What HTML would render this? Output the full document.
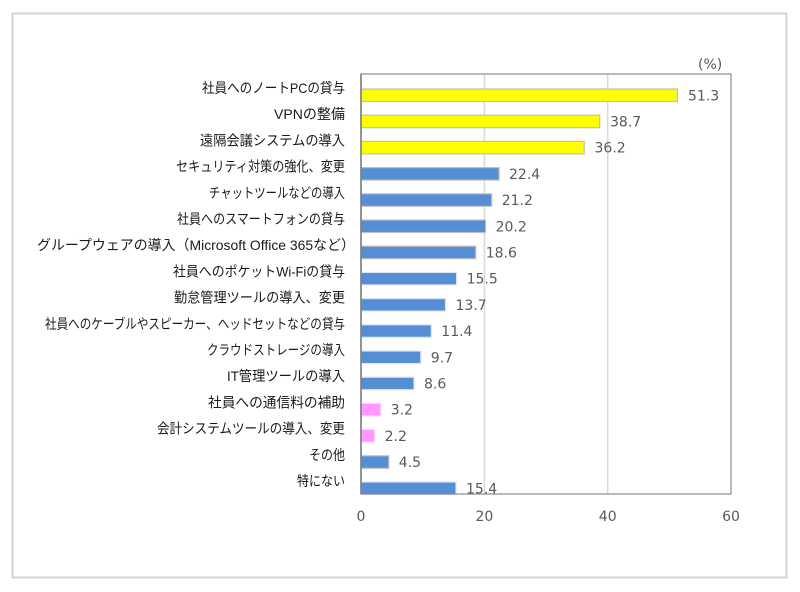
<!DOCTYPE html>
<html><head><meta charset="utf-8"><style>
html,body{margin:0;padding:0;background:#fff;}
svg{display:block;}
.cat{font-family:"Liberation Sans","Noto Sans CJK JP",sans-serif;font-size:14px;fill:#1a1a1a;}
.val{font-family:"DejaVu Sans","Liberation Sans",sans-serif;font-size:14px;fill:#595959;}
</style></head><body>
<svg width="800" height="592" viewBox="0 0 800 592" xmlns="http://www.w3.org/2000/svg">
<rect x="0" y="0" width="800" height="592" fill="#fff"/>
<rect x="12.5" y="13.5" width="774" height="564" fill="#fff" stroke="#d4d4d4" stroke-width="2"/>
<!-- gridlines -->
<line x1="484.4" y1="74" x2="484.4" y2="494" stroke="#d9d9d9" stroke-width="1.5"/>
<line x1="607.7" y1="74" x2="607.7" y2="494" stroke="#d9d9d9" stroke-width="1.5"/>
<!-- bars -->
<g stroke-width="1.2">
<rect x="361" y="89" width="316.4" height="12.5" fill="#FFFF00" stroke="#bfbfbf"/>
<rect x="361" y="115.2" width="238.7" height="12.5" fill="#FFFF00" stroke="#bfbfbf"/>
<rect x="361" y="141.4" width="223.2" height="12.5" fill="#FFFF00" stroke="#bfbfbf"/>
<rect x="361" y="167.6" width="138.1" height="12.5" fill="#558ED5" stroke="#bfbfbf"/>
<rect x="361" y="193.8" width="130.7" height="12.5" fill="#558ED5" stroke="#bfbfbf"/>
<rect x="361" y="220" width="124.6" height="12.5" fill="#558ED5" stroke="#bfbfbf"/>
<rect x="361" y="246.2" width="114.7" height="12.5" fill="#558ED5" stroke="#bfbfbf"/>
<rect x="361" y="272.4" width="95.6" height="12.5" fill="#558ED5" stroke="#dce6f4"/>
<rect x="361" y="298.6" width="84.5" height="12.5" fill="#558ED5" stroke="#dce6f4"/>
<rect x="361" y="324.8" width="70.3" height="12.5" fill="#558ED5" stroke="#dce6f4"/>
<rect x="361" y="351" width="59.8" height="12.5" fill="#558ED5" stroke="#dce6f4"/>
<rect x="361" y="377.2" width="53" height="12.5" fill="#558ED5" stroke="#dce6f4"/>
<rect x="361" y="403.4" width="19.7" height="12.5" fill="#FF99FF" stroke="#ffd0ff"/>
<rect x="361" y="429.6" width="13.6" height="12.5" fill="#FF99FF" stroke="#ffd0ff"/>
<rect x="361" y="455.8" width="27.8" height="12.5" fill="#558ED5" stroke="#bfbfbf"/>
<rect x="361" y="482" width="95" height="12.5" fill="#558ED5" stroke="#dce6f4"/>
</g>
<!-- plot frame -->
<rect x="361" y="74" width="370" height="420" fill="none" stroke="#8c8c8c" stroke-width="1.2"/>
<line x1="361" y1="74" x2="361" y2="494" stroke="#7f7f7f" stroke-width="1.6"/>
<!-- value labels -->
<g class="val">
<text x="688" y="100.3">51.3</text>
<text x="610" y="126.5">38.7</text>
<text x="594.5" y="152.7">36.2</text>
<text x="509" y="178.9">22.4</text>
<text x="501.7" y="205.1">21.2</text>
<text x="495.6" y="231.3">20.2</text>
<text x="485.7" y="257.5">18.6</text>
<text x="466.6" y="283.7">15.5</text>
<text x="455.5" y="309.9">13.7</text>
<text x="441.3" y="336.1">11.4</text>
<text x="430.8" y="362.3">9.7</text>
<text x="424" y="388.5">8.6</text>
<text x="390.7" y="414.7">3.2</text>
<text x="384.6" y="440.9">2.2</text>
<text x="398.8" y="467.1">4.5</text>
<text x="466" y="493.3">15.4</text>
</g>
<!-- axis ticks -->
<g class="val" text-anchor="middle">
<text x="361" y="521">0</text>
<text x="484.4" y="521">20</text>
<text x="607.7" y="521">40</text>
<text x="731" y="521">60</text>
</g>
<text class="val" x="698" y="69">(%)</text>
<!-- category labels -->
<g class="cat">
<text x="202" y="93" textLength="143" lengthAdjust="spacingAndGlyphs">社員へのノートPCの貸与</text>
<text x="274" y="119.2" textLength="71" lengthAdjust="spacingAndGlyphs">VPNの整備</text>
<text x="200" y="145.4" textLength="145" lengthAdjust="spacingAndGlyphs">遠隔会議システムの導入</text>
<text x="176" y="171.6" textLength="169" lengthAdjust="spacingAndGlyphs">セキュリティ対策の強化、変更</text>
<text x="209" y="197.8" textLength="136" lengthAdjust="spacingAndGlyphs">チャットツールなどの導入</text>
<text x="177" y="224" textLength="168" lengthAdjust="spacingAndGlyphs">社員へのスマートフォンの貸与</text>
<text x="37" y="250.2" textLength="318" lengthAdjust="spacingAndGlyphs">グループウェアの導入（Microsoft Office 365など）</text>
<text x="173" y="276.4" textLength="172" lengthAdjust="spacingAndGlyphs">社員へのポケットWi-Fiの貸与</text>
<text x="174" y="302.6" textLength="171" lengthAdjust="spacingAndGlyphs">勤怠管理ツールの導入、変更</text>
<text x="45" y="328.8" textLength="300" lengthAdjust="spacingAndGlyphs">社員へのケーブルやスピーカー、ヘッドセットなどの貸与</text>
<text x="207" y="355" textLength="138" lengthAdjust="spacingAndGlyphs">クラウドストレージの導入</text>
<text x="227" y="381.2" textLength="118" lengthAdjust="spacingAndGlyphs">IT管理ツールの導入</text>
<text x="208" y="407.4" textLength="137" lengthAdjust="spacingAndGlyphs">社員への通信料の補助</text>
<text x="157" y="433.6" textLength="188" lengthAdjust="spacingAndGlyphs">会計システムツールの導入、変更</text>
<text x="309" y="459.8" textLength="36" lengthAdjust="spacingAndGlyphs">その他</text>
<text x="297" y="486" textLength="48" lengthAdjust="spacingAndGlyphs">特にない</text>
</g>
</svg>
</body></html>
